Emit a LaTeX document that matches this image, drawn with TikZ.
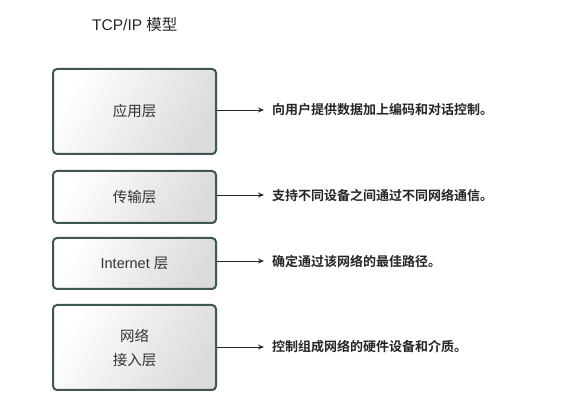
\documentclass[tikz,border=0pt]{standalone}
\usepackage{fontspec}
\setmainfont{Liberation Sans}
\newfontfamily\cjk{Noto Sans CJK SC}
\newfontfamily\cjkb{Noto Sans CJK SC Bold}
\usetikzlibrary{arrows.meta,shadows}
\definecolor{boxline}{HTML}{3E5656}
\tikzset{
  layerbox/.style={draw=boxline, line width=2pt, rounded corners=4pt,
    left color=white, right color=black!14, shading angle=60,
    minimum width=163pt, anchor=north west, inner sep=0pt,
    align=center, font=\fontsize{14.5}{24}\selectfont, text=black!80,
    drop shadow={shadow xshift=1pt, shadow yshift=-1pt, opacity=0.25}},
  desc/.style={anchor=west, inner sep=0pt, font=\cjkb\fontsize{13}{15}\selectfont, text=black!85},
  arr/.style={-{Stealth[length=6pt,width=5pt]}, line width=0.9pt, black!85}
}
\begin{document}
\begin{tikzpicture}[x=1pt,y=-1pt]
\useasboundingbox[fill=white] (0,0) rectangle (565,411);
\node[anchor=west, inner sep=0pt, font=\fontsize{15.5}{17}\selectfont, text=black!85] (title) at (92,25) {TCP/IP {\cjk 模型}};
\node[layerbox, minimum height=85pt] (b1) at (52,68) {\cjk 应用层};
\node[layerbox, minimum height=52pt] (b2) at (52,170) {\cjk 传输层};
\node[layerbox, minimum height=51pt] (b3) at (52,237) {Internet {\cjk 层}};
\node[layerbox, minimum height=85pt] (b4) at (52,304) {\cjk 网络\\\cjk 接入层};
\node[desc] (d1) at (272,110) {向用户提供数据加上编码和对话控制。};
\node[desc] (d2) at (272,195) {支持不同设备之间通过不同网络通信。};
\node[desc] (d3) at (272,261) {确定通过该网络的最佳路径。};
\node[desc] (d4) at (272,347) {控制组成网络的硬件设备和介质。};
\draw[arr] (b1.east |- d1.west) -- ([xshift=-8pt]d1.west);
\draw[arr] (b2.east |- d2.west) -- ([xshift=-8pt]d2.west);
\draw[arr] (b3.east |- d3.west) -- ([xshift=-8pt]d3.west);
\draw[arr] (b4.east |- d4.west) -- ([xshift=-8pt]d4.west);
\end{tikzpicture}
\end{document}
